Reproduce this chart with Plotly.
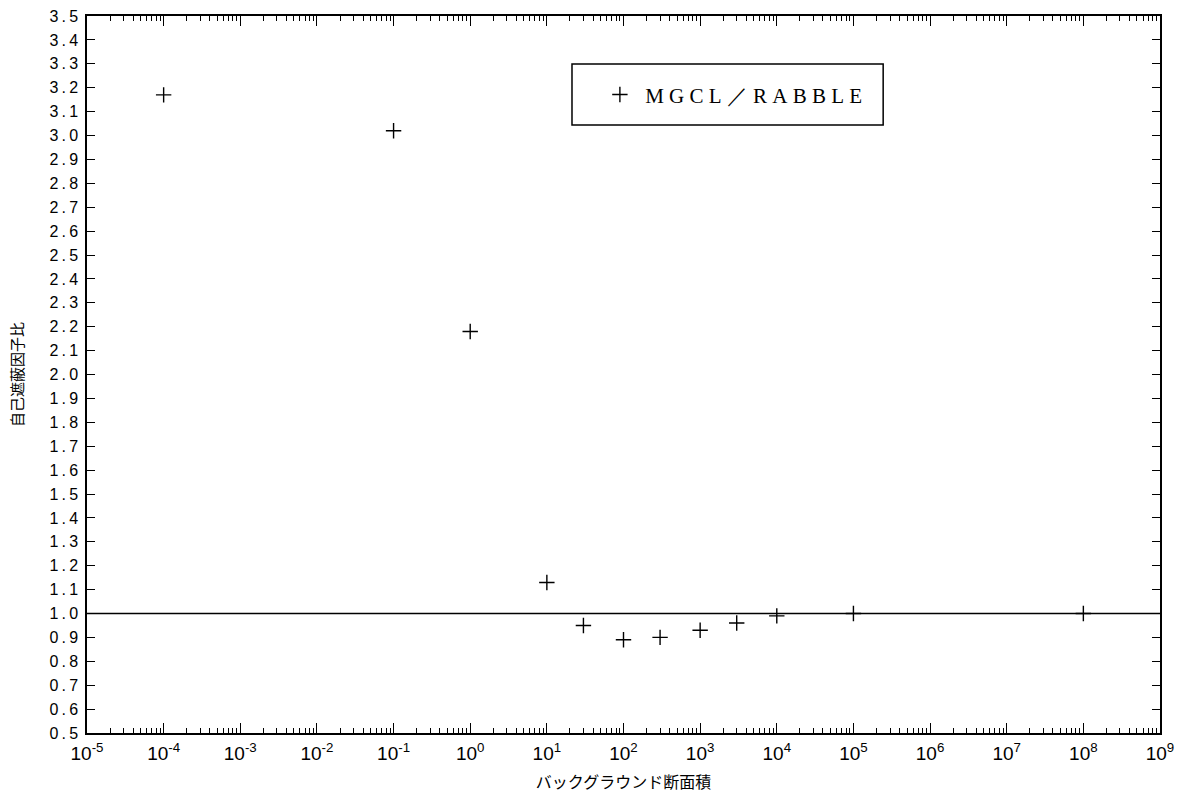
import plotly.graph_objects as go

# Data
background_xs = [1e-4, 1e-1, 1e0, 1e1, 3e1, 1e2, 3e2, 1e3, 3e3, 1e4, 1e5, 1e8]
ratio_values = [3.17, 3.02, 2.18, 1.13, 0.95, 0.89, 0.90, 0.93, 0.96, 0.99, 1.00, 1.00]
series_name = "\u00a0M\u00a0G\u00a0C\u00a0L\u00a0／\u00a0R\u00a0A\u00a0B\u00a0B\u00a0L\u00a0E"
reference_level = 1.0
y_ticks = [round(0.5 + 0.1 * i, 1) for i in range(31)]
x_exponents = list(range(-5, 10))
x_title = "バックグラウンド断面積"
y_title = "自己遮蔽因子比"

x_tickvals = [10.0 ** e for e in x_exponents]
x_ticktext = [f"10<sup>{e}</sup>" for e in x_exponents]
x_minor = [m * 10.0 ** e for e in x_exponents[:-1] for m in range(2, 10)]
y_ticktext = ["\u2009.\u2009".join(f"{v:.1f}".split(".")) for v in y_ticks]

fig = go.Figure()

fig.add_trace(go.Scatter(
    x=background_xs, y=ratio_values, mode="markers", name=series_name,
    marker=dict(symbol="cross-thin", size=11, color="black",
                line=dict(color="black", width=1.4)),
))

fig.add_hline(y=reference_level, line=dict(color="black", width=1.5))

# legend frame
fig.add_shape(type="rect", xref="paper", yref="paper",
              x0=0.452, x1=0.742, y0=0.848, y1=0.933,
              line=dict(color="black", width=1.5), fillcolor="rgba(0,0,0,0)")

axis_font = dict(family="Liberation Sans, Arial, sans-serif", size=16, color="black")
x_axis_font = dict(family="Liberation Sans, Arial, sans-serif", size=19, color="black")

fig.update_layout(
    width=1180, height=794,
    margin=dict(l=87, r=20, t=16, b=61, autoexpand=False),
    paper_bgcolor="white", plot_bgcolor="white",
    showlegend=True,
    legend=dict(x=0.478, y=0.89, xanchor="left", yanchor="middle",
                bgcolor="rgba(0,0,0,0)", borderwidth=0, itemwidth=30,
                font=dict(family="Liberation Serif, Times New Roman, serif", size=21, color="black")),
    font=dict(family="Noto Sans CJK JP, sans-serif", color="black"),
)

fig.update_xaxes(
    type="log", range=[-5, 9], tickvals=x_tickvals, ticktext=x_ticktext,
    showgrid=False, zeroline=False, automargin=False,
    showline=True, linecolor="black", linewidth=1.5, mirror="allticks",
    ticks="inside", ticklen=10, tickwidth=1.2, tickcolor="black",
    minor=dict(tickmode="array", tickvals=x_minor, ticks="inside", ticklen=5,
               tickwidth=1, tickcolor="black", showgrid=False),
    tickfont=x_axis_font, ticklabelstandoff=2,
    title=dict(text=x_title, font=dict(family="Noto Sans CJK JP, sans-serif", size=16), standoff=14),
)

fig.update_yaxes(
    range=[0.5, 3.5], tickvals=y_ticks, ticktext=y_ticktext,
    showgrid=False, zeroline=False, automargin=False,
    showline=True, linecolor="black", linewidth=1.5, mirror="ticks",
    ticks="inside", ticklen=8, tickwidth=1.2, tickcolor="black",
    tickfont=axis_font, ticklabelstandoff=4,
    title=dict(text=y_title, font=dict(family="Noto Sans CJK JP, sans-serif", size=15), standoff=22),
)

fig.write_html("out.html")
